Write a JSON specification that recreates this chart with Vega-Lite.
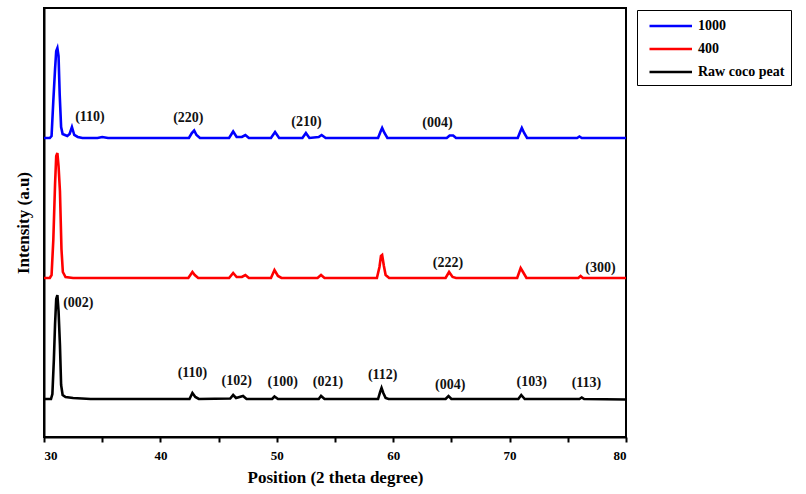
{
  "$schema": "https://vega.github.io/schema/vega-lite/v6.json",
  "width": 582,
  "height": 429,
  "autosize": {"type": "none"},
  "padding": {"left": 44, "top": 8, "right": 180, "bottom": 57},
  "background": "white",
  "config": {
    "view": {"stroke": "#000", "strokeWidth": 2},
    "font": "Liberation Serif",
    "axis": {"domainColor": "#000", "domainWidth": 2, "tickColor": "#000", "tickWidth": 2, "grid": false,
      "labelFont": "Liberation Serif", "labelFontWeight": "bold", "labelColor": "#000",
      "titleFont": "Liberation Serif", "titleFontWeight": "bold", "titleColor": "#000"}
  },
  "datasets": {
    "xrd": [
      {"s":"1000","x":30.0,"y":299},{"s":"1000","x":30.5,"y":299},{"s":"1000","x":30.65,"y":301},{"s":"1000","x":30.8,"y":336},
      {"s":"1000","x":30.95,"y":368},{"s":"1000","x":31.05,"y":386},{"s":"1000","x":31.15,"y":389},{"s":"1000","x":31.25,"y":381},
      {"s":"1000","x":31.35,"y":342},{"s":"1000","x":31.47,"y":310},{"s":"1000","x":31.6,"y":303},{"s":"1000","x":31.8,"y":302},
      {"s":"1000","x":32.0,"y":301},{"s":"1000","x":32.2,"y":303},{"s":"1000","x":32.4,"y":310},{"s":"1000","x":32.6,"y":302},
      {"s":"1000","x":32.9,"y":300},{"s":"1000","x":33.3,"y":299},{"s":"1000","x":34.6,"y":299},
      {"s":"1000","x":35.0,"y":300},{"s":"1000","x":35.5,"y":299},
      {"s":"1000","x":42.45,"y":299},{"s":"1000","x":42.7,"y":304},{"s":"1000","x":42.9,"y":306.5},
      {"s":"1000","x":43.1,"y":302},{"s":"1000","x":43.4,"y":299},{"s":"1000","x":45.9,"y":299},
      {"s":"1000","x":46.25,"y":305.5},{"s":"1000","x":46.55,"y":300},{"s":"1000","x":47.0,"y":300},{"s":"1000","x":47.3,"y":302},
      {"s":"1000","x":47.6,"y":299},{"s":"1000","x":49.5,"y":299},{"s":"1000","x":49.85,"y":305},{"s":"1000","x":50.2,"y":299},
      {"s":"1000","x":52.2,"y":299},{"s":"1000","x":52.5,"y":304},{"s":"1000","x":52.8,"y":299},{"s":"1000","x":53.6,"y":300},
      {"s":"1000","x":53.85,"y":302},{"s":"1000","x":54.2,"y":299},
      {"s":"1000","x":58.7,"y":299},{"s":"1000","x":58.9,"y":305},{"s":"1000","x":59.05,"y":309},{"s":"1000","x":59.25,"y":304},
      {"s":"1000","x":59.5,"y":299},{"s":"1000","x":64.6,"y":299},{"s":"1000","x":64.85,"y":301.5},
      {"s":"1000","x":65.15,"y":301.5},{"s":"1000","x":65.4,"y":299},{"s":"1000","x":70.7,"y":299},
      {"s":"1000","x":70.9,"y":305},{"s":"1000","x":71.05,"y":309},{"s":"1000","x":71.25,"y":304},{"s":"1000","x":71.5,"y":299},
      {"s":"1000","x":75.8,"y":299},{"s":"1000","x":76.0,"y":300.5},{"s":"1000","x":76.2,"y":299},{"s":"1000","x":80.0,"y":299},

      {"s":"400","x":30.0,"y":159},{"s":"400","x":30.5,"y":159},{"s":"400","x":30.65,"y":162},{"s":"400","x":30.8,"y":197},
      {"s":"400","x":30.95,"y":253},{"s":"400","x":31.05,"y":281},{"s":"400","x":31.15,"y":284},{"s":"400","x":31.25,"y":271},
      {"s":"400","x":31.37,"y":246},{"s":"400","x":31.5,"y":188},{"s":"400","x":31.62,"y":165},{"s":"400","x":31.85,"y":160},
      {"s":"400","x":32.5,"y":159},{"s":"400","x":42.4,"y":159},{"s":"400","x":42.75,"y":165},{"s":"400","x":42.95,"y":162},
      {"s":"400","x":43.25,"y":159},{"s":"400","x":45.9,"y":159},{"s":"400","x":46.25,"y":164},{"s":"400","x":46.55,"y":160},
      {"s":"400","x":47.0,"y":160},{"s":"400","x":47.3,"y":162},{"s":"400","x":47.6,"y":159},{"s":"400","x":49.5,"y":159},
      {"s":"400","x":49.8,"y":167},{"s":"400","x":50.1,"y":161},{"s":"400","x":50.4,"y":159},{"s":"400","x":53.5,"y":159},
      {"s":"400","x":53.8,"y":162},{"s":"400","x":54.1,"y":159},{"s":"400","x":58.6,"y":159},{"s":"400","x":58.82,"y":170},
      {"s":"400","x":58.95,"y":181},{"s":"400","x":59.05,"y":182},{"s":"400","x":59.2,"y":171},{"s":"400","x":59.35,"y":162},{"s":"400","x":59.65,"y":159},
      {"s":"400","x":64.5,"y":159},{"s":"400","x":64.8,"y":165},{"s":"400","x":65.1,"y":160},{"s":"400","x":65.4,"y":159},
      {"s":"400","x":70.65,"y":159},{"s":"400","x":70.95,"y":169},{"s":"400","x":71.15,"y":165},{"s":"400","x":71.45,"y":159},
      {"s":"400","x":75.9,"y":159},{"s":"400","x":76.1,"y":161},{"s":"400","x":76.3,"y":159},{"s":"400","x":80.0,"y":159},

      {"s":"Raw coco peat","x":30.0,"y":38},{"s":"Raw coco peat","x":30.6,"y":38},{"s":"Raw coco peat","x":30.72,"y":43},{"s":"Raw coco peat","x":30.85,"y":78},
      {"s":"Raw coco peat","x":30.95,"y":113},{"s":"Raw coco peat","x":31.05,"y":138},{"s":"Raw coco peat","x":31.15,"y":142},{"s":"Raw coco peat","x":31.25,"y":126},
      {"s":"Raw coco peat","x":31.37,"y":92},{"s":"Raw coco peat","x":31.47,"y":52},{"s":"Raw coco peat","x":31.6,"y":42},{"s":"Raw coco peat","x":31.85,"y":40},
      {"s":"Raw coco peat","x":32.5,"y":39},{"s":"Raw coco peat","x":34.0,"y":38},
      {"s":"Raw coco peat","x":42.5,"y":38},{"s":"Raw coco peat","x":42.75,"y":44},{"s":"Raw coco peat","x":43.0,"y":40},{"s":"Raw coco peat","x":43.3,"y":38},
      {"s":"Raw coco peat","x":46.0,"y":38.5},{"s":"Raw coco peat","x":46.25,"y":42},{"s":"Raw coco peat","x":46.5,"y":39},{"s":"Raw coco peat","x":47.1,"y":41},
      {"s":"Raw coco peat","x":47.4,"y":38},{"s":"Raw coco peat","x":49.6,"y":38},{"s":"Raw coco peat","x":49.8,"y":40.5},{"s":"Raw coco peat","x":50.1,"y":38},
      {"s":"Raw coco peat","x":53.6,"y":38},{"s":"Raw coco peat","x":53.8,"y":41},{"s":"Raw coco peat","x":54.1,"y":38},{"s":"Raw coco peat","x":58.7,"y":38},
      {"s":"Raw coco peat","x":58.88,"y":45},{"s":"Raw coco peat","x":59.0,"y":49},{"s":"Raw coco peat","x":59.15,"y":44},{"s":"Raw coco peat","x":59.35,"y":39},
      {"s":"Raw coco peat","x":59.6,"y":38},{"s":"Raw coco peat","x":64.5,"y":38},{"s":"Raw coco peat","x":64.75,"y":41},{"s":"Raw coco peat","x":65.0,"y":38},
      {"s":"Raw coco peat","x":70.75,"y":38},{"s":"Raw coco peat","x":71.0,"y":42},{"s":"Raw coco peat","x":71.3,"y":38},{"s":"Raw coco peat","x":76.0,"y":38},
      {"s":"Raw coco peat","x":76.2,"y":39.5},{"s":"Raw coco peat","x":76.4,"y":38},{"s":"Raw coco peat","x":80.0,"y":37.5}
    ],
    "labels": [
      {"t":"(110)","x":33.95,"y":320},
      {"t":"(220)","x":42.4,"y":319},
      {"t":"(210)","x":52.55,"y":315},
      {"t":"(004)","x":63.8,"y":314},
      {"t":"(222)","x":64.7,"y":174},
      {"t":"(300)","x":77.8,"y":169},
      {"t":"(002)","x":32.95,"y":134},
      {"t":"(110)","x":42.75,"y":64},
      {"t":"(102)","x":46.55,"y":56},
      {"t":"(100)","x":50.5,"y":55},
      {"t":"(021)","x":54.4,"y":55},
      {"t":"(112)","x":59.1,"y":62},
      {"t":"(004)","x":64.9,"y":52},
      {"t":"(103)","x":71.9,"y":55},
      {"t":"(113)","x":76.6,"y":54}
    ]
  },
  "layer": [
    {
      "data": {"name": "xrd"},
      "mark": {"type": "line", "strokeWidth": 2.6, "interpolate": "linear"},
      "encoding": {
        "x": {"field": "x", "type": "quantitative",
          "scale": {"domain": [30, 80], "nice": false, "zero": false},
          "axis": {"title": "Position (2 theta degree)", "values": [30,35,40,45,50,55,60,65,70,75,80],
            "labelExpr": "datum.value % 10 === 0 ? datum.label : ''",
            "tickSize": 5, "labelFontSize": 13, "labelPadding": 7, "titleFontSize": 17, "titlePadding": 7}},
        "y": {"field": "y", "type": "quantitative",
          "scale": {"domain": [0, 429], "nice": false},
          "axis": {"title": "Intensity (a.u)", "ticks": false, "labels": false, "titleFontSize": 17, "titlePadding": 12}},
        "color": {"field": "s", "type": "nominal",
          "scale": {"domain": ["1000", "400", "Raw coco peat"], "range": ["#0000ff", "#ff0000", "#000000"]},
          "legend": {"title": null, "orient": "none", "legendX": 593, "legendY": 2,
            "strokeColor": "#000", "padding": 6, "rowPadding": 6,
            "symbolType": "M-1,0H4", "symbolSize": 289, "symbolStrokeWidth": 2.5, "symbolOffset": 5,
            "labelOffset": 30, "labelFont": "Liberation Serif", "labelFontWeight": "bold", "labelFontSize": 14, "labelColor": "#000",
            "labelLimit": 300}}
      }
    },
    {
      "data": {"name": "labels"},
      "mark": {"type": "text", "font": "Liberation Serif", "fontWeight": "bold", "fontSize": 14, "color": "#111", "baseline": "middle", "align": "center"},
      "encoding": {
        "x": {"field": "x", "type": "quantitative"},
        "y": {"field": "y", "type": "quantitative"},
        "text": {"field": "t"}
      }
    }
  ]
}
